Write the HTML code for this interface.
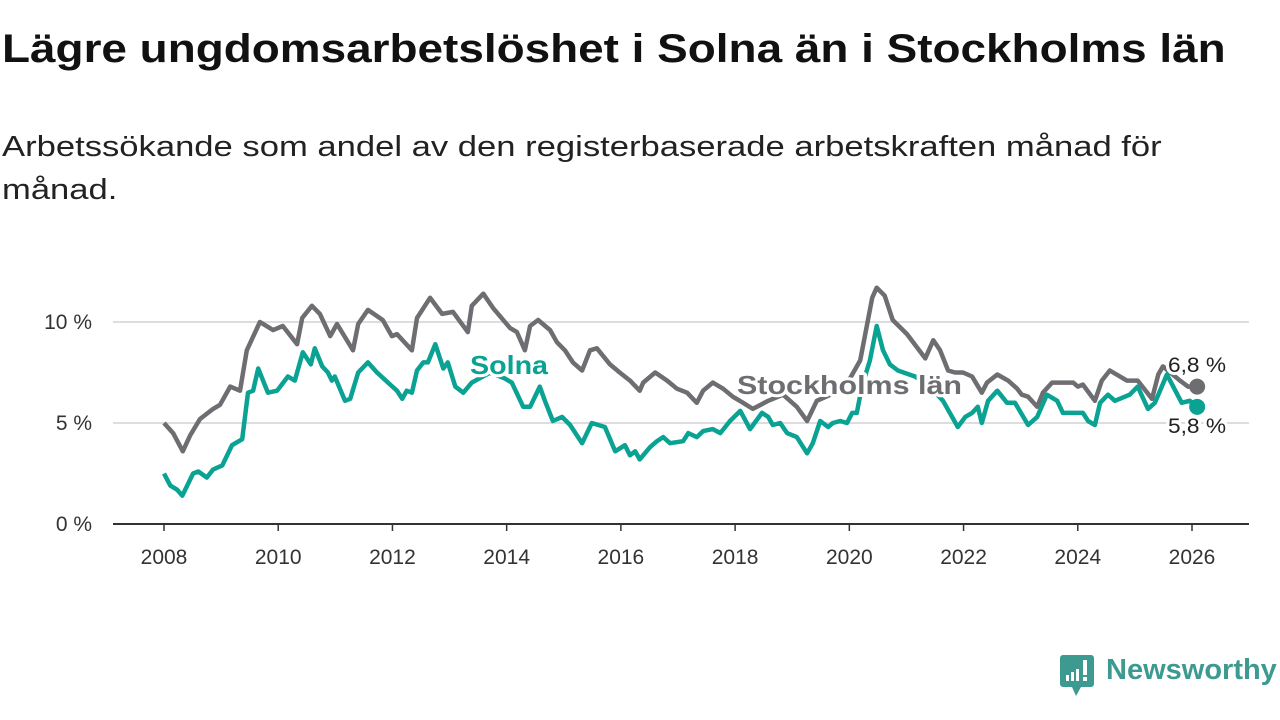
<!DOCTYPE html>
<html><head><meta charset="utf-8">
<style>
html,body{margin:0;padding:0;background:#fff;}
body{width:1280px;height:720px;overflow:hidden;position:relative;font-family:"Liberation Sans","DejaVu Sans",sans-serif;color:#111;}
h1{position:absolute;left:2px;top:27px;margin:0;font-size:40px;font-weight:bold;white-space:nowrap;transform:scaleX(1.147);transform-origin:0 0;}
.sub{position:absolute;left:2px;top:126px;margin:0;font-size:29px;line-height:43px;width:1010px;color:#222;transform:scaleX(1.193);transform-origin:0 0;}
svg{position:absolute;left:0;top:0;}
</style></head><body>
<h1>Lägre ungdomsarbetslöshet i Solna än i Stockholms län</h1>
<p class="sub">Arbetssökande som andel av den registerbaserade arbetskraften månad för månad.</p>
<svg id="chart" width="1280" height="720"></svg>
<div style="position:absolute;left:1060px;top:655px;height:40px;">
<svg width="36" height="42" style="position:absolute;left:0;top:0">
<path d="M3 0h28a3 3 0 0 1 3 3v26a3 3 0 0 1-3 3H21l-5 9-4-9H3a3 3 0 0 1-3-3V3a3 3 0 0 1 3-3z" fill="#3d9a90"/>
<rect x="6" y="20" width="3" height="6" fill="#fff"/><rect x="11" y="17" width="3" height="9" fill="#fff"/><rect x="16" y="14" width="3" height="12" fill="#fff"/><rect x="23" y="5" width="4" height="15" fill="#fff"/><rect x="23" y="22" width="4" height="4" fill="#fff"/>
</svg>
<span style="position:absolute;left:46px;top:-1px;font-size:29px;font-weight:bold;color:#3d9a90;white-space:nowrap;">Newsworthy</span>
</div>
<script>
const stockYears=[2008.0,2008.16,2008.33,2008.46,2008.63,2008.86,2008.98,2009.16,2009.33,2009.45,2009.68,2009.91,2010.08,2010.33,2010.42,2010.59,2010.73,2010.91,2011.03,2011.31,2011.4,2011.57,2011.83,2011.99,2012.08,2012.34,2012.43,2012.66,2012.87,2013.06,2013.32,2013.39,2013.59,2013.76,2014.06,2014.18,2014.32,2014.41,2014.55,2014.76,2014.88,2015.02,2015.16,2015.32,2015.46,2015.58,2015.81,2015.98,2016.16,2016.33,2016.39,2016.6,2016.81,2016.98,2017.16,2017.33,2017.44,2017.61,2017.79,2017.96,2018.14,2018.31,2018.58,2018.84,2019.08,2019.26,2019.43,2019.75,2020.01,2020.19,2020.4,2020.48,2020.62,2020.76,2021.01,2021.33,2021.47,2021.59,2021.73,2021.85,2021.99,2022.15,2022.32,2022.41,2022.59,2022.78,2022.94,2023.02,2023.13,2023.29,2023.39,2023.55,2023.92,2024.0,2024.09,2024.3,2024.42,2024.56,2024.86,2025.05,2025.3,2025.41,2025.49,2025.79,2025.93,2026.09];
const stockVals=[5.0,4.5,3.6,4.4,5.2,5.7,5.9,6.8,6.6,8.6,10.0,9.6,9.8,8.9,10.2,10.8,10.4,9.3,9.9,8.6,9.9,10.6,10.1,9.3,9.4,8.6,10.2,11.2,10.4,10.5,9.5,10.8,11.4,10.7,9.7,9.5,8.6,9.8,10.1,9.6,9.0,8.6,8.0,7.6,8.6,8.7,7.9,7.5,7.1,6.6,7.0,7.5,7.1,6.7,6.5,6.0,6.6,7.0,6.7,6.3,6.0,5.7,6.1,6.4,5.8,5.1,6.1,6.5,7.2,8.1,11.2,11.7,11.3,10.1,9.4,8.2,9.1,8.6,7.6,7.5,7.5,7.3,6.5,7.0,7.4,7.1,6.7,6.4,6.3,5.8,6.5,7.0,7.0,6.8,6.9,6.1,7.1,7.6,7.1,7.1,6.2,7.4,7.8,7.1,6.8,6.8];
const solnaYears=[2008.0,2008.11,2008.23,2008.32,2008.51,2008.6,2008.75,2008.86,2009.02,2009.19,2009.37,2009.47,2009.56,2009.65,2009.82,2009.98,2010.17,2010.29,2010.43,2010.57,2010.64,2010.77,2010.87,2010.94,2010.99,2011.17,2011.26,2011.4,2011.57,2011.73,2011.96,2012.08,2012.17,2012.25,2012.34,2012.43,2012.54,2012.62,2012.75,2012.89,2012.97,2013.1,2013.24,2013.39,2013.71,2013.97,2014.09,2014.29,2014.41,2014.58,2014.67,2014.81,2014.97,2015.11,2015.32,2015.49,2015.72,2015.9,2016.07,2016.16,2016.25,2016.33,2016.51,2016.63,2016.74,2016.86,2017.09,2017.18,2017.33,2017.44,2017.61,2017.74,2017.91,2018.09,2018.26,2018.47,2018.58,2018.66,2018.79,2018.91,2019.08,2019.26,2019.36,2019.49,2019.63,2019.71,2019.84,2019.96,2020.05,2020.13,2020.22,2020.36,2020.48,2020.59,2020.71,2020.85,2021.15,2021.41,2021.64,2021.9,2022.03,2022.15,2022.25,2022.32,2022.43,2022.59,2022.76,2022.9,2023.13,2023.29,2023.46,2023.64,2023.74,2024.09,2024.18,2024.3,2024.39,2024.53,2024.65,2024.91,2025.05,2025.23,2025.35,2025.56,2025.82,2025.96,2026.09];
const solnaVals=[2.5,1.9,1.7,1.4,2.5,2.6,2.3,2.7,2.9,3.9,4.2,6.5,6.6,7.7,6.5,6.6,7.3,7.1,8.5,7.9,8.7,7.8,7.5,7.1,7.3,6.1,6.2,7.5,8.0,7.5,6.9,6.6,6.2,6.6,6.5,7.6,8.0,8.0,8.9,7.7,8.0,6.8,6.5,7.0,7.5,7.2,7.0,5.8,5.8,6.8,6.1,5.1,5.3,4.9,4.0,5.0,4.8,3.6,3.9,3.4,3.6,3.2,3.8,4.1,4.3,4.0,4.1,4.5,4.3,4.6,4.7,4.5,5.1,5.6,4.7,5.5,5.3,4.9,5.0,4.5,4.3,3.5,4.0,5.1,4.8,5.0,5.1,5.0,5.5,5.5,6.8,8.1,9.8,8.6,7.9,7.6,7.3,6.8,6.1,4.8,5.3,5.5,5.8,5.0,6.1,6.6,6.0,6.0,4.9,5.3,6.4,6.1,5.5,5.5,5.1,4.9,6.0,6.4,6.1,6.4,6.8,5.7,6.0,7.4,6.0,6.1,5.8];
const yTicks=[0,5,10];
const yTickLabels=["0 %","5 %","10 %"];
const xTicks=[2008,2010,2012,2014,2016,2018,2020,2022,2024,2026];

const NS="http://www.w3.org/2000/svg";
const svg=document.getElementById('chart');
const X=y=>164+(y-2008)*(1192-164)/18;
const Y=v=>524-v*20.2;
function mk(tag,attrs,parent){const e=document.createElementNS(NS,tag);for(const k in attrs)e.setAttribute(k,attrs[k]);(parent||svg).appendChild(e);return e;}

yTicks.forEach((t,i)=>{
  if(t>0){const g=mk('line',{x1:113,x2:1249,y1:Y(t),y2:Y(t),stroke:'#dddddd','stroke-width':2});
  
  }
  const tx=mk('text',{x:92,y:Y(t)+7,'text-anchor':'end','font-size':21,fill:'#333','font-family':'Liberation Sans, sans-serif'});
  tx.textContent=yTickLabels[i];
  
  
});
const ax=mk('line',{x1:113,x2:1249,y1:524,y2:524,stroke:'#333','stroke-width':2});


xTicks.forEach(t=>{
  const tk=mk('line',{x1:X(t),x2:X(t),y1:524,y2:531,stroke:'#333','stroke-width':1.5});
  
  
  const tx=mk('text',{x:X(t),y:564,'text-anchor':'middle','font-size':21,fill:'#333','font-family':'Liberation Sans, sans-serif'});
  tx.textContent=t;
  
  
});
function pathD(xs,vs){return xs.map((x,i)=>(i?'L':'M')+X(x).toFixed(1)+' '+Y(vs[i]).toFixed(1)).join(' ');}
const sl=mk('path',{d:pathD(stockYears,stockVals),fill:'none',stroke:'#6e6d72','stroke-width':4.5,'stroke-linejoin':'round'});


const so=mk('path',{d:pathD(solnaYears,solnaVals),fill:'none',stroke:'#0aa293','stroke-width':4.5,'stroke-linejoin':'round'});


const d1=mk('circle',{cx:X(stockYears[stockYears.length-1]),cy:Y(stockVals[stockVals.length-1]),r:8,fill:'#6e6d72'});


const d2=mk('circle',{cx:X(solnaYears[solnaYears.length-1]),cy:Y(solnaVals[solnaVals.length-1]),r:8,fill:'#0aa293'});


function label(txt,x,y,color,size,bold,len,name){
  const t=mk('text',{x:x,y:y,'font-size':size,'font-weight':bold?'bold':'normal',fill:color,textLength:len,lengthAdjust:'spacingAndGlyphs',stroke:'#fff','stroke-width':6,'paint-order':'stroke','stroke-linejoin':'round','font-family':'Liberation Sans, sans-serif'});
  t.textContent=txt;
  
  
}
label('Solna',470,374,'#0aa293',26,true,78,'solna-series-label');
label('Stockholms län',737,394,'#6e6d72',26,true,225,'stockholms-lan-series-label');
label('6,8 %',1168,372,'#222',21,false,58,'stockholms-lan-end-value');
label('5,8 %',1168,433,'#222',21,false,58,'solna-end-value');
</script>
</body></html>
